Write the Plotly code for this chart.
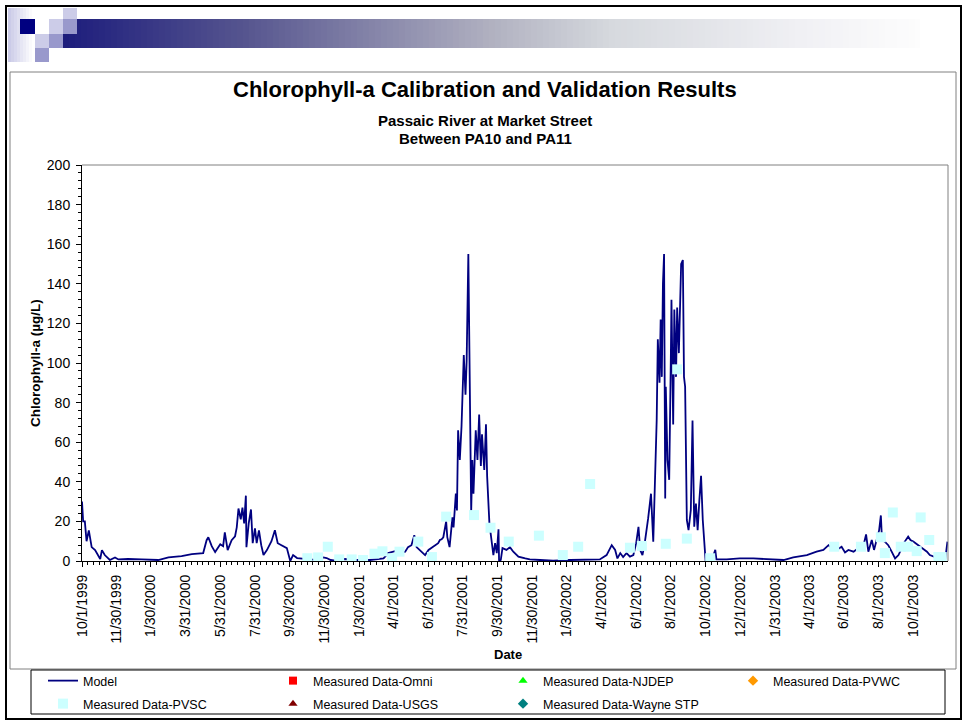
import pandas as pd
import plotly.graph_objects as go

START = pd.Timestamp("1999-10-01")
END = pd.Timestamp("2003-12-01")

# Model output: days after 10/1/1999, chlorophyll-a (ug/L)
model_day = [
    0, 2, 5, 8, 12, 17, 23, 32, 35, 40, 49, 58, 64, 81, 105, 134, 152, 175, 193, 213,
    219, 222, 228, 234, 243, 248, 251, 256, 263, 269, 272, 275, 279, 282, 285, 288, 289, 293, 297, 300,
    304, 307, 311, 315, 319, 325, 333, 339, 344, 351, 360, 366, 371, 378, 386, 398, 410, 424, 430, 437,
    445, 452, 462, 477, 506, 530, 538, 550, 559, 568, 573, 579, 584, 588, 594, 603, 609, 617, 626, 629,
    632, 635, 638, 640, 642, 646, 651, 653, 657, 659, 661, 664, 667, 671, 674, 676, 679, 681, 684, 686,
    688, 692, 695, 698, 701, 703, 707, 710, 712, 716, 720, 723, 726, 729, 732, 733, 736, 739, 746, 752,
    758, 767, 779, 787, 805, 828, 858, 887, 910, 922, 931, 937, 941, 946, 951, 957, 963, 969, 974, 978,
    981, 985, 989, 995, 1000, 1004, 1007, 1010, 1012, 1015, 1017, 1019, 1021, 1023, 1025, 1026, 1029, 1032, 1035, 1036,
    1039, 1041, 1044, 1046, 1049, 1051, 1053, 1056, 1058, 1060, 1063, 1066, 1070, 1073, 1076, 1079, 1082, 1085, 1088, 1091,
    1094, 1096, 1101, 1107, 1113, 1115, 1133, 1156, 1180, 1203, 1233, 1250, 1274, 1291, 1303, 1312, 1318, 1326, 1335, 1341,
    1347, 1356, 1364, 1373, 1378, 1382, 1388, 1392, 1397, 1401, 1404, 1406, 1411, 1417, 1423, 1429, 1435, 1441, 1446, 1452,
    1456, 1461, 1470, 1476, 1485, 1490, 1496, 1505, 1517, 1521,
]
model_chla = [
    30, 20, 20, 10, 15.5, 7, 5.5, 1, 5.5, 3, 0.5, 1.8, 0.8, 1, 0.8, 0.5, 1.8, 2.5, 3.5, 4,
    10.5, 12, 7.5, 4.5, 8.5, 7.5, 14.5, 5.5, 10.5, 12.5, 17, 26.5, 21, 27, 19, 33, 7, 19, 26, 9,
    16.5, 9, 15.5, 8, 3, 5.5, 10, 15.5, 9, 8, 6.5, 0, 3, 1.5, 1.3, 0.8, 0.6, 1.8, 1.5, 0.5,
    0.2, 0.6, 1, 0.5, 0.5, 1.3, 4, 5, 4, 4.7, 7, 8, 13, 7, 5.5, 3, 5.6, 7, 9, 10.6,
    11, 12, 17, 20, 12, 7, 22, 17, 34, 25.5, 66, 51, 68, 104, 84, 101, 155, 108, 25, 51,
    34, 66, 51, 74, 48, 64, 46, 69, 43, 19, 10.6, 3, 9, 4, 16, 0, 0.5, 6.5, 5.6, 7,
    4.7, 2.2, 1.3, 0.8, 0.5, 0.2, 0.5, 0.5, 0.8, 3, 8, 5.6, 1.3, 4, 2, 4, 2.2, 3, 9, 17.3,
    5.6, 3, 9, 21.5, 34, 9.8, 42.6, 71, 112, 90, 122, 93, 140, 155, 31.6, 88, 51, 41, 105, 132,
    69, 127, 93, 128, 105, 137, 150, 152, 93, 88, 20.7, 15.6, 25.8, 71, 17.3, 29, 15.6, 30.6, 43, 20.7,
    9, 0, 1.3, 0.5, 5.6, 0.8, 0.8, 1.3, 1.3, 1, 0.5, 1.8, 3, 4.7, 5.6, 8, 6.4, 5.6, 7.2, 4.3,
    5.6, 4.7, 6.4, 7.2, 13.4, 4.7, 10.6, 5.6, 11.5, 15.6, 23, 10.6, 9.8, 8, 4.7, 1.3, 3, 6.4, 9.8, 12.3,
    10.6, 9.8, 8, 6.4, 4.7, 3, 2.2, 1.3, 0.5, 9.8,
]

# Measured Data-PVSC samples
pvsc_day = [
    396, 415, 432, 452, 474, 494, 514, 528, 545, 558, 591, 615, 640, 689, 718, 750, 803, 845, 872,
    893, 963, 984, 1026, 1046, 1063, 1104, 1322, 1369, 1404, 1411, 1425, 1439, 1452, 1467, 1474,
    1489, 1505, 1511,
]
pvsc_chla = [
    1.4, 1.8, 7.2, 0.8, 0.8, 0.5, 3.7, 4.9, 1.4, 4.7, 9.8, 2, 22.4, 23.2, 16.8, 9.8, 12.8, 3, 7.2,
    38.9, 6.7, 7.6, 8.7, 96.8, 11.3, 1.4, 7.2, 7.2, 12, 4, 24.5, 7.2, 7.2, 5, 22,
    10.6, 2, 2,
]

tick_labels = [
    "10/1/1999", "11/30/1999", "1/30/2000", "3/31/2000", "5/31/2000", "7/31/2000",
    "9/30/2000", "11/30/2000", "1/30/2001", "4/1/2001", "6/1/2001", "7/31/2001",
    "9/30/2001", "11/30/2001", "1/30/2002", "4/1/2002", "6/1/2002", "8/1/2002",
    "10/1/2002", "12/1/2002", "1/31/2003", "4/1/2003", "6/1/2003", "8/1/2003", "10/1/2003",
]

# series with no samples at this station, shown only in the legend
empty_series = {
    "Measured Data-Omni": ("square", "#ff0000", "legend"),
    "Measured Data-NJDEP": ("triangle-up", "#00ff00", "legend"),
    "Measured Data-PVWC": ("diamond", "#ff9900", "legend3"),
    "Measured Data-USGS": ("triangle-up", "#800000", "legend2"),
    "Measured Data-Wayne STP": ("diamond", "#008080", "legend2"),
}

FONT = "Arial, 'Liberation Sans', sans-serif"
W, H = 963, 721
L, R, T, B = 82, 948, 165, 561


def px_x(px):
    return (px - L) / (R - L)


def px_y(py):
    return (B - py) / (B - T)


def rect(x0, y0, x1, y1, fill=None, line=None, width=1):
    return dict(
        type="rect", xref="paper", yref="paper",
        x0=px_x(x0), x1=px_x(x1), y0=px_y(y0), y1=px_y(y1),
        fillcolor=fill if fill else "rgba(0,0,0,0)",
        line=dict(color=line if line else "rgba(0,0,0,0)", width=width if line else 0),
    )


def lerp_color(stops, x):
    for (xa, ca), (xb, cb) in zip(stops, stops[1:]):
        if xa <= x <= xb:
            t = (x - xa) / (xb - xa)
            c = [round(a + (b - a) * t) for a, b in zip(ca, cb)]
            return "rgb(%d,%d,%d)" % tuple(c)
    return "rgb(%d,%d,%d)" % stops[-1][1]


def add_empty(fig, name):
    sym, col, leg = empty_series[name]
    fig.add_trace(go.Scatter(
        x=[None], y=[None], mode="markers", name=name, legend=leg,
        marker=dict(symbol=sym, color=col, size=8),
    ))


model_dates = [START + pd.Timedelta(days=d) for d in model_day]
pvsc_dates = [START + pd.Timedelta(days=d) for d in pvsc_day]
tick_vals = list(pd.to_datetime(tick_labels, format="%m/%d/%Y"))

minor_vals = []
edges = tick_vals + [END]
for a, b in zip(edges, edges[1:]):
    step = (b - a) / 6
    minor_vals += [a + step * k for k in range(1, 6)]

fig = go.Figure()

fig.add_trace(go.Scatter(
    x=model_dates, y=model_chla, mode="lines", name="Model",
    line=dict(color="#000080", width=1.8), legend="legend",
))
add_empty(fig, "Measured Data-Omni")
add_empty(fig, "Measured Data-NJDEP")
add_empty(fig, "Measured Data-PVWC")
fig.add_trace(go.Scatter(
    x=pvsc_dates, y=pvsc_chla, mode="markers", name="Measured Data-PVSC",
    marker=dict(symbol="square", color="#ccffff", size=10), legend="legend2",
))
add_empty(fig, "Measured Data-USGS")
add_empty(fig, "Measured Data-Wayne STP")

# decorative slide header: gradient bar and squares
shapes = []
bar_stops = [
    (63, (28, 28, 124)), (245, (86, 85, 143)), (490, (176, 176, 192)),
    (613, (214, 217, 222)), (800, (240, 240, 244)), (920, (253, 253, 253)),
]
for xa in range(63, 921, 6):
    shapes.append(rect(xa, 19, min(xa + 6.6, 920), 48, fill=lerp_color(bar_stops, xa + 3)))
strip_stops = [(8, (200, 200, 230)), (33, (255, 255, 255))]
for xa in range(8, 33, 3):
    shapes.append(rect(xa, 8, xa + 3.3, 62, fill=lerp_color(strip_stops, xa + 1.5)))
for x0, y0, x1, y1, col in [
    (20, 19, 35, 34, "#000080"),
    (63, 8, 77, 19, "#cccce8"),
    (49, 19, 63, 34, "#cccce8"),
    (63, 19, 77, 34, "#9999cc"),
    (35, 34, 49, 48, "#cccce8"),
    (49, 34, 63, 48, "#9999cc"),
    (35, 48, 49, 62, "#9999cc"),
]:
    shapes.append(rect(x0, y0, x1, y1, fill=col))

# frames
shapes.append(rect(6, 6, 961, 719, line="#000000", width=2))
shapes.append(rect(10, 72, 956, 669, line="#808080", width=1))
shapes.append(rect(31, 670, 945, 714, line="#000000", width=1))
shapes.append(dict(type="line", xref="paper", yref="paper", x0=0, x1=1, y0=1, y1=1,
                   line=dict(color="#808080", width=1)))
shapes.append(dict(type="line", xref="paper", yref="paper", x0=1, x1=1, y0=0, y1=1,
                   line=dict(color="#808080", width=1)))

annotations = [
    dict(text="<b>Chlorophyll-a Calibration and Validation Results</b>", x=px_x(485), y=px_y(90),
         font=dict(size=22, color="black", family=FONT)),
    dict(text="<b>Passaic River at Market Street</b>", x=px_x(485), y=px_y(120),
         font=dict(size=15, color="black", family=FONT)),
    dict(text="<b>Between PA10 and PA11</b>", x=px_x(485), y=px_y(139),
         font=dict(size=15, color="black", family=FONT)),
    dict(text="<b>Chlorophyll-a (µg/L)</b>", x=px_x(35), y=0.5, textangle=-90,
         font=dict(size=13.5, color="black", family=FONT)),
    dict(text="<b>Date</b>", x=px_x(508), y=px_y(654),
         font=dict(size=13, color="black", family=FONT)),
]
for a in annotations:
    a.update(xref="paper", yref="paper", showarrow=False, xanchor="center", yanchor="middle")

legend_style = dict(
    orientation="h", xanchor="left", yanchor="middle",
    bgcolor="rgba(0,0,0,0)", borderwidth=0,
    font=dict(size=12.5, color="black", family=FONT),
)

fig.update_layout(
    width=W, height=H,
    margin=dict(l=L, r=W - R, t=T, b=H - B, pad=0, autoexpand=False),
    paper_bgcolor="white", plot_bgcolor="white",
    font=dict(family=FONT, color="black", size=12),
    shapes=shapes, annotations=annotations,
    showlegend=True,
    legend=dict(legend_style, x=px_x(43), y=px_y(681), entrywidth=185, entrywidthmode="pixels"),
    legend2=dict(legend_style, x=px_x(43), y=px_y(704), entrywidth=185, entrywidthmode="pixels"),
    legend3=dict(legend_style, x=px_x(733), y=px_y(681)),
    xaxis=dict(
        type="date", range=[START, END], tickmode="array",
        tickvals=tick_vals, ticktext=tick_labels, tickangle=-90,
        ticks="outside", ticklen=5, tickcolor="black", tickwidth=1,
        showline=True, linecolor="black", linewidth=1, showgrid=False, zeroline=False,
        automargin=False,
        tickfont=dict(size=14, color="black", family=FONT), ticklabelstandoff=2,
        minor=dict(tickmode="array", tickvals=minor_vals, ticks="outside", ticklen=3,
                   tickcolor="black", showgrid=False),
    ),
    yaxis=dict(
        range=[0, 200], tickmode="linear", tick0=0, dtick=20,
        ticks="outside", ticklen=5, tickcolor="black", tickwidth=1,
        showline=True, linecolor="black", linewidth=1, showgrid=False, zeroline=False,
        automargin=False,
        tickfont=dict(size=14, color="black", family=FONT), ticklabelstandoff=3,
        minor=dict(dtick=4, ticks="outside", ticklen=3, tickcolor="black", showgrid=False),
    ),
)

fig.write_html("out.html", config={"displayModeBar": False},
               post_script="document.body.style.margin='0';")
